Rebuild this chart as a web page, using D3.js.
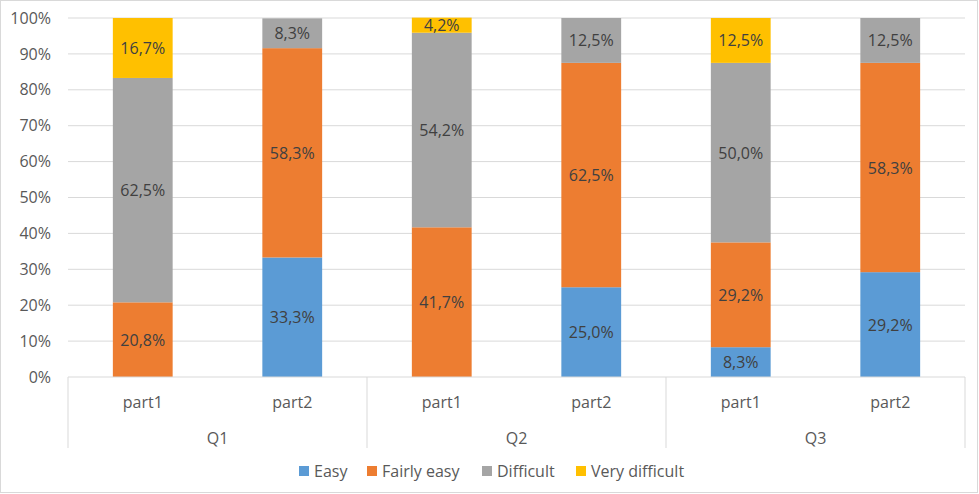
<!DOCTYPE html>
<html>
<head>
<meta charset="utf-8">
<script src="https://cdn.jsdelivr.net/npm/d3@7"></script>
<style>
  body { margin: 0; background: #fff; }
  text { font-family: "Open Sans", "Noto Sans", sans-serif; }
</style>
</head>
<body>
<div id="chart"></div>
<script>
// Data (percent of answers)
const groups = ["Q1", "Q2", "Q3"];
const parts = ["part1", "part2"];
const series = ["Easy", "Fairly easy", "Difficult", "Very difficult"];
const colors = ["#5B9BD5", "#ED7D31", "#A5A5A5", "#FFC000"];
const easy =          [0,    33.3, 0,    25.0, 8.3,  29.2];
const fairlyEasy =    [20.8, 58.3, 41.7, 62.5, 29.2, 58.3];
const difficult =     [62.5, 8.3,  54.2, 12.5, 50.0, 12.5];
const veryDifficult = [16.7, 0,    4.2,  0,    12.5, 0];
const yTicks = [0, 10, 20, 30, 40, 50, 60, 70, 80, 90, 100];

let width = 979, height = 494;
let margin = { top: 18, bottom: 117, right: 14, left: 68 };
const fontSize = '16px';

// build rows: one per bar
const rows = [];
groups.forEach((g, gi) => {
  parts.forEach((p, pi) => {
    const i = gi * parts.length + pi;
    rows.push({
      key: g + "-" + p, group: g, part: p,
      "Easy": easy[i], "Fairly easy": fairlyEasy[i],
      "Difficult": difficult[i], "Very difficult": veryDifficult[i]
    });
  });
});

const stacked = d3.stack().keys(series)(rows);

let svg = d3.select('#chart')
  .append('svg')
  .attr('width', width)
  .attr('height', height);

// chart border
svg.append('rect')
  .attr('x', 0.5).attr('y', 0.5)
  .attr('width', width - 2).attr('height', height - 2)
  .attr('fill', '#fff')
  .attr('stroke', '#d9d9d9');

const x = d3.scaleBand()
  .domain(rows.map(d => d.key))
  .range([margin.left, width - margin.right])
  .paddingInner(0.6)
  .paddingOuter(0.3);

const xGroup = d3.scaleBand()
  .domain(groups)
  .range([margin.left, width - margin.right]);

const y = d3.scaleLinear()
  .domain([0, 100])
  .range([height - margin.bottom, margin.top]);

const color = d3.scaleOrdinal().domain(series).range(colors);

// gridlines
svg.append('g')
  .selectAll('line')
  .data(yTicks.filter(t => t > 0))
  .enter()
  .append('line')
  .attr('x1', margin.left)
  .attr('x2', width - margin.right)
  .attr('y1', d => y(d))
  .attr('y2', d => y(d))
  .attr('stroke', '#d9d9d9');

// y axis labels
let yAxis = svg.append('g')
  .attr('transform', `translate(${margin.left},0)`)
  .call(d3.axisLeft(y).tickValues(yTicks).tickFormat(d => d + '%').tickSize(0).tickPadding(17));
yAxis.select('.domain').remove();
yAxis.selectAll('text')
  .attr('fill', '#595959')
  .style('font-size', fontSize)
  .style('font-family', '"Open Sans", sans-serif');

// bars
const layers = svg.append('g')
  .selectAll('g')
  .data(stacked)
  .enter()
  .append('g')
  .attr('fill', d => color(d.key));

layers.selectAll('rect')
  .data(d => d)
  .enter()
  .append('rect')
  .attr('x', d => x(d.data.key))
  .attr('y', d => y(d[1]))
  .attr('width', x.bandwidth())
  .attr('height', d => y(d[0]) - y(d[1]));

// value labels
stacked.forEach(layer => {
  layer.forEach(d => {
    const v = d[1] - d[0];
    if (v <= 0) return;
    svg.append('text')
      .attr('x', x(d.data.key) + x.bandwidth() / 2)
      .attr('y', (y(d[0]) + y(d[1])) / 2)
      .attr('text-anchor', 'middle')
      .attr('dominant-baseline', 'central')
      .attr('fill', '#404040')
      .style('font-size', fontSize)
      .text(d.data[layer.key].toFixed(1).replace('.', ',') + '%');
  });
});

// category axis
const axisY = y(0);
const axisBottom = axisY + 71;
svg.append('line')
  .attr('x1', margin.left).attr('x2', width - margin.right)
  .attr('y1', axisY).attr('y2', axisY)
  .attr('stroke', '#d9d9d9');

const seps = groups.map(g => xGroup(g)).concat([width - margin.right]);
svg.append('g')
  .selectAll('line')
  .data(seps)
  .enter()
  .append('line')
  .attr('x1', d => d).attr('x2', d => d)
  .attr('y1', axisY).attr('y2', axisBottom)
  .attr('stroke', '#d9d9d9');

svg.append('g')
  .selectAll('text')
  .data(rows)
  .enter()
  .append('text')
  .attr('x', d => x(d.key) + x.bandwidth() / 2)
  .attr('y', axisY + 25)
  .attr('text-anchor', 'middle')
  .attr('dominant-baseline', 'central')
  .attr('fill', '#595959')
  .style('font-size', fontSize)
  .text(d => d.part);

svg.append('g')
  .selectAll('text')
  .data(groups)
  .enter()
  .append('text')
  .attr('x', d => xGroup(d) + xGroup.bandwidth() / 2)
  .attr('y', axisY + 61)
  .attr('text-anchor', 'middle')
  .attr('dominant-baseline', 'central')
  .attr('fill', '#595959')
  .style('font-size', fontSize)
  .text(d => d);

// legend
const legendX = [299, 367, 482, 576];
const legend = svg.append('g');
series.forEach((s, i) => {
  legend.append('rect')
    .attr('x', legendX[i])
    .attr('y', 466)
    .attr('width', 10)
    .attr('height', 10)
    .attr('fill', color(s));
  legend.append('text')
    .attr('x', legendX[i] + 15)
    .attr('y', 471)
    .attr('dominant-baseline', 'central')
    .attr('fill', '#595959')
    .style('font-size', fontSize)
    .text(s);
});
</script>
</body>
</html>
